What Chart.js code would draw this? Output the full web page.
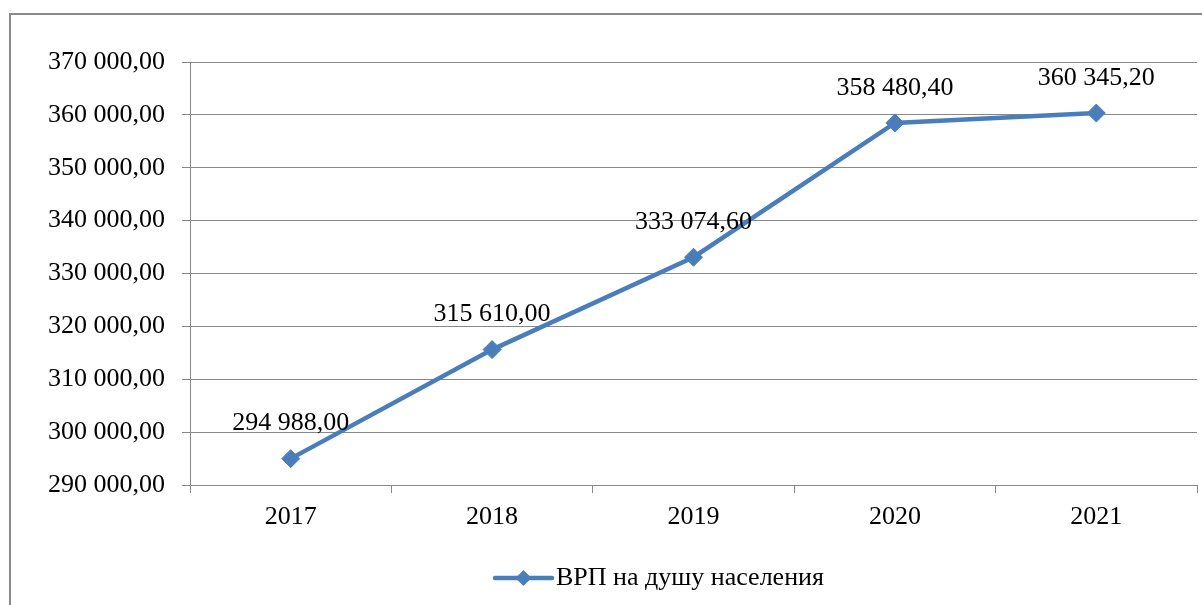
<!DOCTYPE html>
<html>
<head>
<meta charset="utf-8">
<script src="https://cdn.jsdelivr.net/npm/chart.js@4/dist/chart.umd.min.js"></script>
<style>
  html, body { margin: 0; padding: 0; background: #ffffff; }
  #wrap { position: relative; width: 1202px; height: 605px; overflow: hidden; }
  #frame { position: absolute; left: 9px; top: 13px; width: 1400px; height: 800px; border: 2px solid #8a8a8a; box-sizing: border-box; }
  #c { position: absolute; left: 0; top: 0; }
</style>
</head>
<body>
<div id="wrap">
  <div id="frame"></div>
  <canvas id="c" width="1202" height="605"></canvas>
</div>
<script>
const categories = ['2017', '2018', '2019', '2020', '2021'];
const seriesName = 'ВРП на душу населения';
const grpPerCapita = [294988.00, 315610.00, 333074.60, 358480.40, 360345.20];
const yTickMin = 290000;
const yTickMax = 370000;
const yTickStep = 10000;

const FONT = '"Liberation Serif", "Times New Roman", serif';
const LINE_COLOR = '#4A7EBB';
const GRID_COLOR = '#888888';

function fmt(v) {
  const s = Number(v).toFixed(2);
  const parts = s.split('.');
  return parts[0].replace(/\B(?=(\d{3})+(?!\d))/g, ' ') + ',' + parts[1];
}

const dataLabelPlugin = {
  id: 'dataLabels',
  afterDatasetsDraw(chart) {
    const ctx = chart.ctx;
    const meta = chart.getDatasetMeta(0);
    const values = chart.data.datasets[0].data;
    ctx.save();
    ctx.font = '26px ' + FONT;
    ctx.fillStyle = '#000000';
    ctx.textAlign = 'center';
    ctx.textBaseline = 'middle';
    meta.data.forEach((pt, i) => {
      ctx.fillText(fmt(values[i]), pt.x, pt.y - 35);
    });
    ctx.restore();
  }
};

const legendPlugin = {
  id: 'customLegend',
  afterDraw(chart) {
    const ctx = chart.ctx;
    const ds = chart.data.datasets[0];
    const cy = 578;
    const x0 = 495, x1 = 552;
    ctx.save();
    ctx.strokeStyle = ds.borderColor;
    ctx.lineWidth = ds.borderWidth;
    ctx.lineCap = 'round';
    ctx.beginPath();
    ctx.moveTo(x0, cy);
    ctx.lineTo(x1, cy);
    ctx.stroke();
    const cx = (x0 + x1) / 2, r = 8;
    ctx.fillStyle = ds.pointBackgroundColor;
    ctx.beginPath();
    ctx.moveTo(cx - r, cy);
    ctx.lineTo(cx, cy - r);
    ctx.lineTo(cx + r, cy);
    ctx.lineTo(cx, cy + r);
    ctx.closePath();
    ctx.fill();
    ctx.font = '26px ' + FONT;
    ctx.fillStyle = '#000000';
    ctx.textAlign = 'left';
    ctx.textBaseline = 'middle';
    ctx.fillText(ds.label, 556, cy);
    ctx.restore();
  }
};

new Chart(document.getElementById('c'), {
  type: 'line',
  data: {
    labels: categories,
    datasets: [{
      label: seriesName,
      data: grpPerCapita,
      borderColor: LINE_COLOR,
      backgroundColor: LINE_COLOR,
      borderWidth: 4.5,
      pointStyle: 'rectRot',
      pointRadius: 9,
      pointHoverRadius: 9,
      pointBackgroundColor: LINE_COLOR,
      pointBorderColor: LINE_COLOR,
      pointBorderWidth: 1,
      tension: 0,
      fill: false
    }]
  },
  options: {
    responsive: false,
    devicePixelRatio: 1,
    animation: false,
    events: [],
    layout: { autoPadding: false, padding: { left: 0, right: 5, top: 62, bottom: 0 } },
    plugins: {
      legend: { display: false },
      tooltip: { enabled: false },
      title: { display: false }
    },
    scales: {
      x: {
        offset: true,
        grid: {
          offset: true,
          drawOnChartArea: false,
          drawTicks: true,
          tickLength: 8,
          color: GRID_COLOR,
          lineWidth: 1
        },
        border: { display: true, color: GRID_COLOR, width: 1 },
        ticks: {
          color: '#000000',
          font: { family: FONT, size: 26 },
          padding: 9,
          maxRotation: 0
        },
        afterFit(scale) {
          scale.height = 120;
          scale.paddingLeft = 0;
          scale.paddingRight = 0;
        }
      },
      y: {
        min: yTickMin,
        max: yTickMax,
        grid: {
          color: GRID_COLOR,
          lineWidth: 1,
          drawTicks: true,
          tickLength: 8
        },
        border: { display: true, color: GRID_COLOR, width: 1 },
        ticks: {
          stepSize: yTickStep,
          color: '#000000',
          font: { family: FONT, size: 26 },
          padding: 17,
          callback: (v) => fmt(v)
        },
        afterFit(scale) { scale.width = 190; }
      }
    }
  },
  plugins: [dataLabelPlugin, legendPlugin]
});
</script>
</body>
</html>
